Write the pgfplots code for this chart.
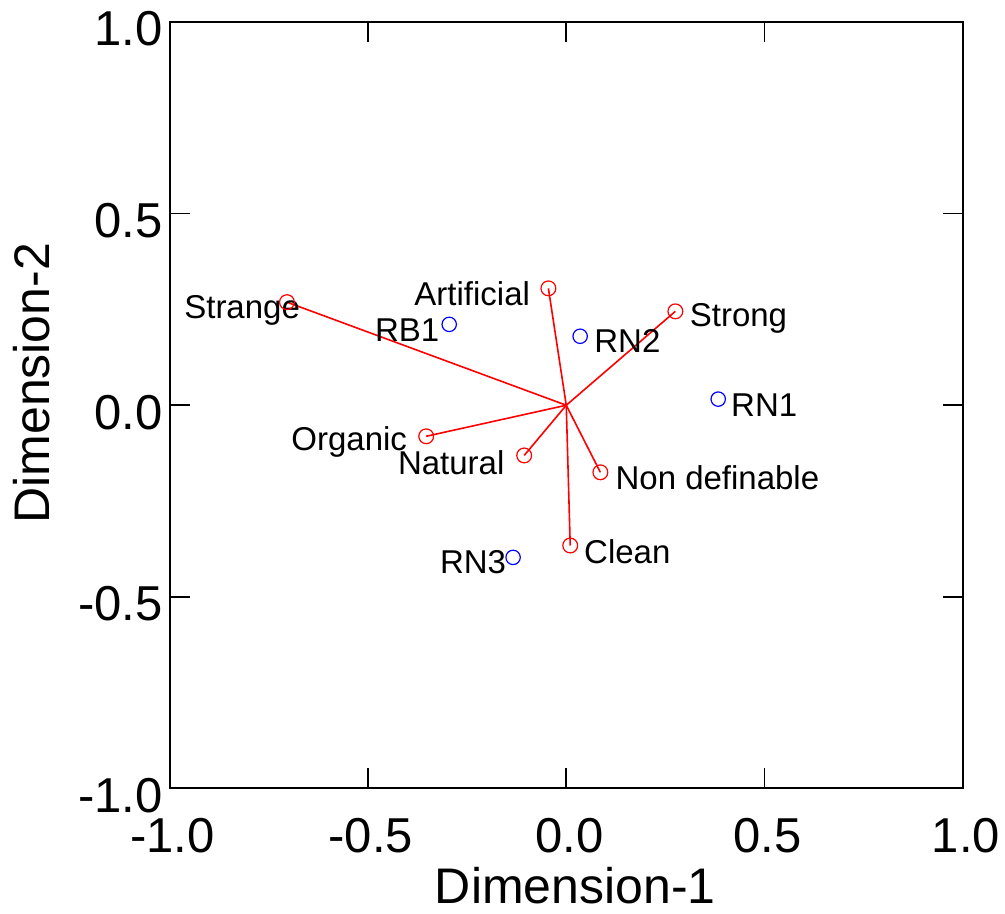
\documentclass[border=0pt]{standalone}
\usepackage{fontspec}
\setmainfont{Liberation Sans}
\usepackage{pgfplots}
\pgfplotsset{compat=1.18}
\begin{document}
\begin{tikzpicture}
\begin{axis}[
  scale only axis,
  width=396.75pt, height=383.25pt,
  xmin=-1, xmax=1, ymin=-1, ymax=1,
  xtick={-1,-0.5,0,0.5,1},
  ytick={-1,-0.5,0,0.5,1},
  /pgf/number format/.cd, fixed, fixed zerofill, precision=1, assume math mode=true,
  /pgfplots/.cd,
  tick label style={font=\fontsize{24.5}{24.5}\selectfont, inner sep=0pt},
  xticklabel style={anchor=north, yshift=-14.5pt, xshift=1.5pt},
  yticklabel style={anchor=east, xshift=-3.25pt, yshift=-3.5pt},
  major tick length=10pt,
  tick align=inside,
  axis line style={line width=1pt},
  major tick style={line width=0.8pt, black},
  clip=false,
]
% vectors from the origin
\addplot[red, line width=0.8pt] coordinates {(0,0) (-0.704,0.269)};
\addplot[red, line width=0.8pt] coordinates {(0,0) (-0.045,0.305)};
\addplot[red, line width=0.8pt] coordinates {(0,0) (0.275,0.245)};
\addplot[red, line width=0.8pt] coordinates {(0,0) (-0.353,-0.081)};
\addplot[red, line width=0.8pt] coordinates {(0,0) (-0.106,-0.131)};
\addplot[red, line width=0.8pt] coordinates {(0,0) (0.086,-0.175)};
\addplot[red, line width=0.8pt] coordinates {(0,0) (0.010,-0.366)};
% attributes
\addplot[only marks, mark=o, mark size=3.7pt, red, fill=white, mark options={line width=0.6pt}] coordinates {
  (-0.704,0.269) (-0.045,0.305) (0.275,0.245) (-0.353,-0.081)
  (-0.106,-0.131) (0.086,-0.175) (0.010,-0.366)
};
% samples
\addplot[only marks, mark=o, mark size=3.6pt, blue, mark options={line width=0.6pt}] coordinates {
  (-0.295,0.211) (0.035,0.180) (0.383,0.016) (-0.134,-0.397)
};
\begin{scope}[font=\fontsize{16.5}{16.5}\selectfont]
\node at (axis cs:-0.817,0.248) {Strange};
\node at (axis cs:-0.237,0.290) {Artificial};
\node at (axis cs:0.434,0.227) {Strong};
\node at (axis cs:-0.401,0.196) {RB1};
\node at (axis cs:0.154,0.167) {RN2};
\node at (axis cs:0.499,0.000) {RN1};
\node at (axis cs:-0.547,-0.097) {Organic};
\node at (axis cs:-0.290,-0.149) {Natural};
\node at (axis cs:0.381,-0.188) {Non definable};
\node at (axis cs:0.154,-0.381) {Clean};
\node at (axis cs:-0.235,-0.410) {RN3};
\end{scope}
% axis titles
\node[anchor=north, inner sep=0pt, font=\fontsize{25}{25}\selectfont]
  at ([xshift=4.5pt, yshift=-39pt]axis description cs:0.5,0) {Dimension-1};
\node[rotate=90, anchor=north, inner sep=0pt, font=\fontsize{25}{25}\selectfont]
  at ([xshift=-78.25pt, yshift=11pt]axis description cs:0,0.5) {Dimension-2};
\end{axis}
\pgfresetboundingbox
\path (current axis.south west) ++(-84.75pt,-62.5pt) rectangle ++(502.5pt,456.75pt);
\end{tikzpicture}
\end{document}
